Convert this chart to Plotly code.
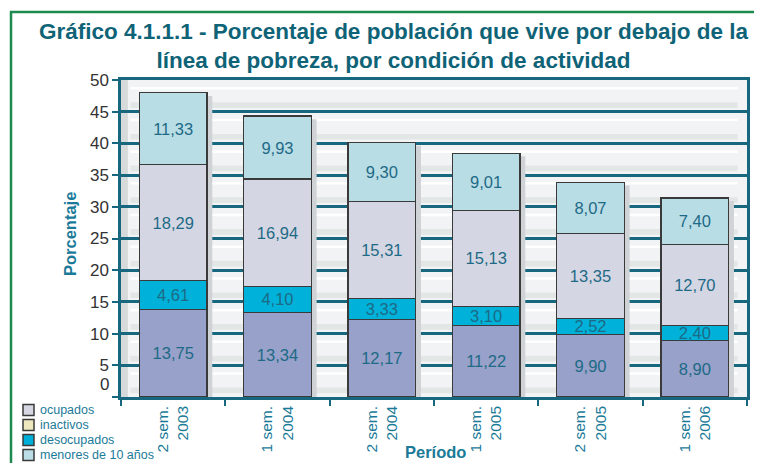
import plotly.graph_objects as go

# ---------------- data ----------------
periodos = ["2 sem.<br>2003", "1 sem.<br>2004", "2 sem.<br>2004",
            "1 sem.<br>2005", "2 sem.<br>2005", "1 sem.<br>2006"]
ocupados = [13.75, 13.34, 12.17, 11.22, 9.90, 8.90]
desocupados = [4.61, 4.10, 3.33, 3.10, 2.52, 2.40]
inactivos = [18.29, 16.94, 15.31, 15.13, 13.35, 12.70]
menores = [11.33, 9.93, 9.30, 9.01, 8.07, 7.40]
y_ticks = [0, 5, 10, 15, 20, 25, 30, 35, 40, 45, 50]

legend_names = ["ocupados", "inactivos", "desocupados", "menores de 10 años"]
legend_colors = ["#D5D8E3", "#EEE8BE", "#00AFD7", "#BBDDE5"]

# ---------------- style ----------------
TEAL = "#17677F"
TEXT_TEAL = "#1B7A98"
LABEL_TEAL = "#1E6A86"
GREEN = "#1E8A50"
OFF = 8                      # page body margin of the browser
W, H = 762 - OFF, 463 - OFF
ML, MR, MT, MB = 121 - OFF, 15, 80 - OFF, 66
PW, PH = W - ML - MR, H - MT - MB


def px_x(x):                 # reference pixel -> paper
    return (x - OFF - ML) / PW


def px_y(y):
    return (H + OFF - MB - y) / PH


def fmt(v):
    return f"{v:.2f}".replace(".", ",")


BAR_W = 0.65
fig = go.Figure()

series = [
    (ocupados, "#97A1C9"),
    (desocupados, "#00B2D9"),
    (inactivos, "#D4D7E3"),
    (menores, "#B9DDE5"),
]
for vals, col in series:
    fig.add_trace(go.Bar(
        x=periodos, y=vals, width=BAR_W,
        marker=dict(color=col, line=dict(color="#3A3A3A", width=1.2)),
        text=[fmt(v) for v in vals], textposition="inside",
        insidetextanchor="middle", constraintext="none",
        textfont=dict(family="Liberation Sans, Arial", size=16.5, color=LABEL_TEAL),
        showlegend=False, hoverinfo="skip",
    ))

shapes = []
# background bands (3D wall effect)
for t in y_ticks[:-1]:
    shapes.append(dict(type="rect", xref="paper", yref="y", x0=0.015, x1=0.985,
                       y0=t + 0.6, y1=t + 1.5, fillcolor="#E2E6E5",
                       line=dict(width=0), layer="below"))
    shapes.append(dict(type="rect", xref="paper", yref="y", x0=0.015, x1=0.985,
                       y0=t + 3.5, y1=t + 3.9, fillcolor="#FFFFFF",
                       line=dict(width=0), layer="below"))
shapes.append(dict(type="rect", xref="paper", yref="paper", x0=0, x1=0.011,
                   y0=0, y1=1, fillcolor="#D6DADB", line=dict(width=0), layer="below"))
# bar shadows
totals = [a + b + c + d for a, b, c, d in zip(ocupados, desocupados, inactivos, menores)]
for i, tot in enumerate(totals):
    shapes.append(dict(type="rect", xref="x", yref="y",
                       x0=i + BAR_W / 2, x1=i + BAR_W / 2 + 0.05,
                       y0=0, y1=tot - 0.5, fillcolor="#D0D3D6",
                       line=dict(width=0), layer="between"))
# green frame
shapes.append(dict(type="path", xref="paper", yref="paper",
                   path=f"M {px_x(11)},{px_y(475)} L {px_x(11)},{px_y(12)} L {px_x(775)},{px_y(12)}",
                   line=dict(color=GREEN, width=2.5)))

annotations = [
    dict(text="<b>Gráfico 4.1.1.1 - Porcentaje de población que vive por debajo de la<br>"
              "línea de pobreza, por condición de actividad</b>",
         xref="paper", yref="paper", x=px_x(393), y=px_y(17), xanchor="center", yanchor="top",
         showarrow=False, align="center",
         font=dict(family="Liberation Sans, Arial", size=22.5, color="#0F6377")),
    dict(text="<b>Porcentaje</b>", xref="paper", yref="paper", x=px_x(70), y=px_y(234),
         xanchor="center", yanchor="middle", textangle=-90, showarrow=False,
         font=dict(family="Liberation Sans, Arial", size=16.5, color=TEXT_TEAL)),
    dict(text="<b>Período</b>", xref="paper", yref="paper", x=px_x(435), y=px_y(452),
         xanchor="center", yanchor="middle", showarrow=False,
         font=dict(family="Liberation Sans, Arial", size=16.5, color=TEXT_TEAL)),
    dict(text="0", xref="paper", yref="y", x=px_x(111), y=1.9,
         xanchor="right", yanchor="middle", showarrow=False,
         font=dict(family="Liberation Sans, Arial", size=17, color="#333333")),
]

# legend as drawn in the original figure
for i, (nm, col) in enumerate(zip(legend_names, legend_colors)):
    cy = 410 + 15 * i
    shapes.append(dict(type="rect", xref="paper", yref="paper",
                       x0=px_x(23), x1=px_x(34), y0=px_y(cy + 5.5), y1=px_y(cy - 5.5),
                       fillcolor=col, line=dict(color="#3A3A3A", width=1.5)))
    annotations.append(dict(text=nm, xref="paper", yref="paper", x=px_x(38), y=px_y(cy),
                            xanchor="left", yanchor="middle", showarrow=False,
                            font=dict(family="Liberation Sans, Arial", size=12.5,
                                      color=TEXT_TEAL)))

fig.update_layout(
    width=W, height=H,
    margin=dict(l=ML, r=MR, t=MT, b=MB, autoexpand=False),
    barmode="stack",
    paper_bgcolor="white",
    plot_bgcolor="#F2F3F5",
    shapes=shapes,
    annotations=annotations,
    showlegend=False,
    uniformtext=dict(minsize=16, mode="show"),
    xaxis=dict(type="category", tickangle=-90, tickson="boundaries",
               ticks="outside", ticklen=6, tickwidth=2, tickcolor=TEAL,
               showline=True, linecolor=TEAL, linewidth=2.5, mirror=True,
               showgrid=False,
               tickfont=dict(family="Liberation Sans, Arial", size=15.5, color=TEXT_TEAL)),
    yaxis=dict(range=[0, 50], tickvals=y_ticks,
               ticktext=["" if t == 0 else str(t) for t in y_ticks],
               ticks="outside", ticklen=6, tickwidth=2, tickcolor=TEAL,
               showline=True, linecolor=TEAL, linewidth=2.5, mirror=True,
               showgrid=True, gridcolor=TEAL, gridwidth=2.5, zeroline=False,
               tickfont=dict(family="Liberation Sans, Arial", size=17, color="#333333")),
)

fig.write_html("out.html")
